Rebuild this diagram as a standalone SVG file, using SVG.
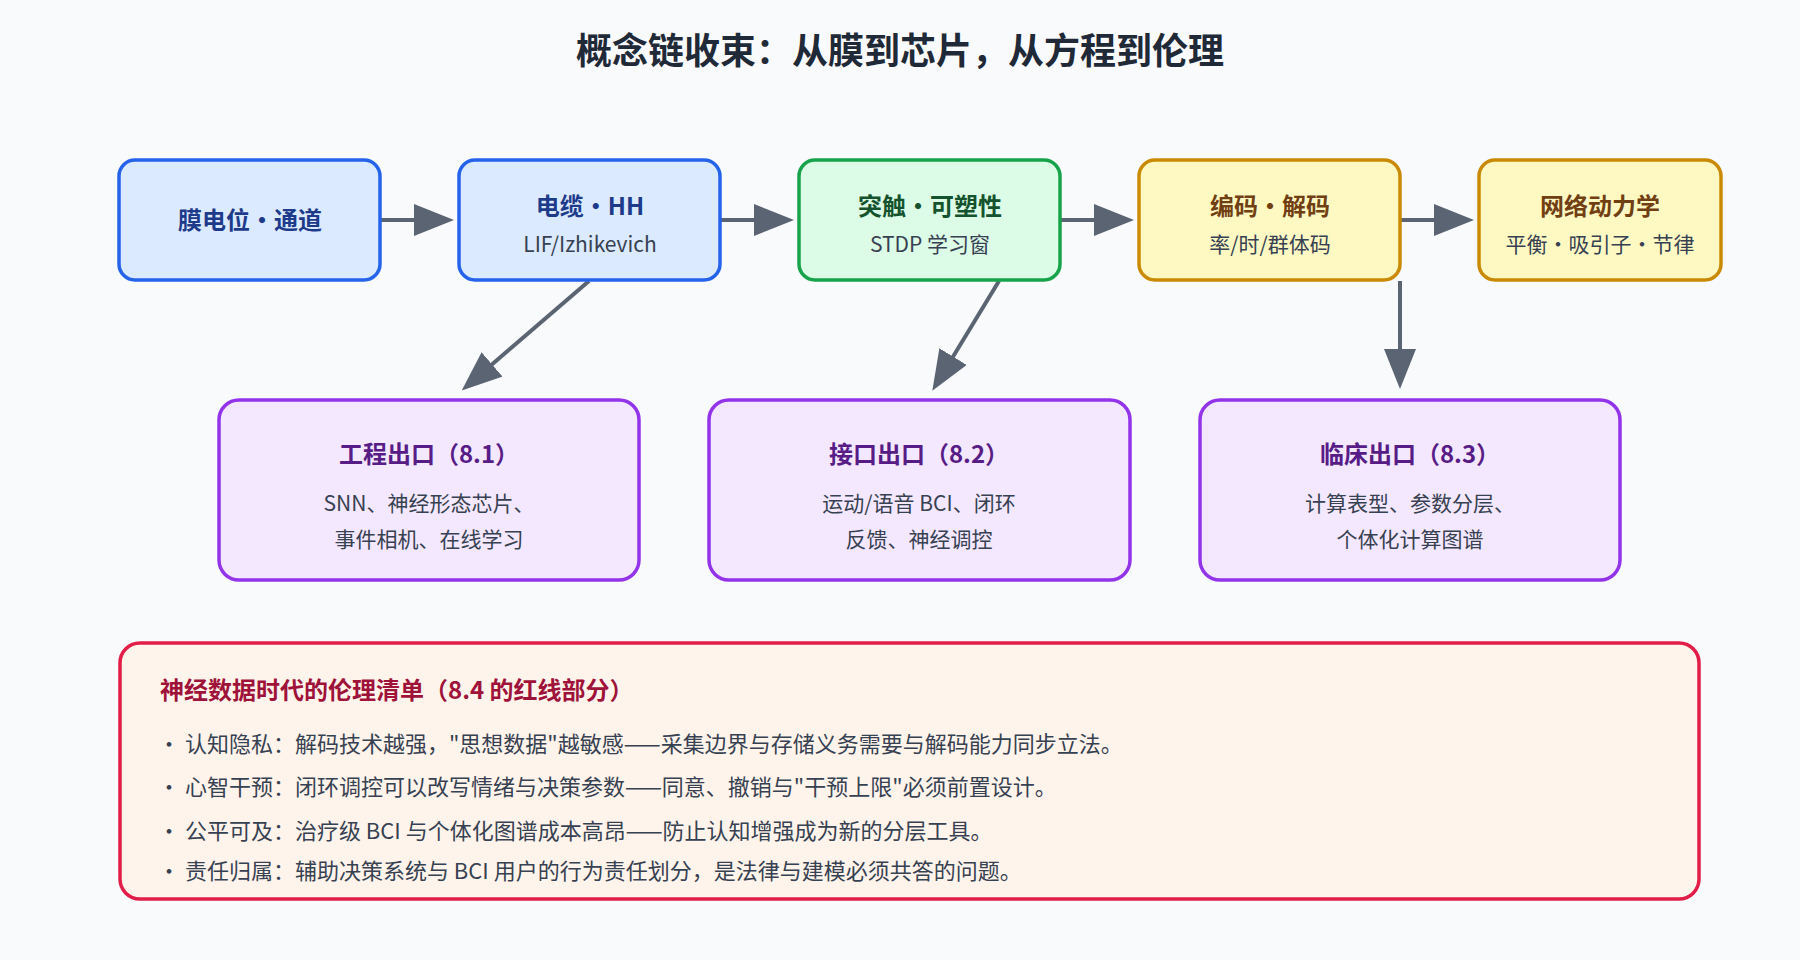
<svg xmlns="http://www.w3.org/2000/svg" width="1800" height="960" viewBox="0 0 1800 960">
<style>
text{font-family:"Noto Sans CJK SC","Noto Sans",sans-serif;text-anchor:middle}
.t{font-size:24px;font-weight:700}
.s{font-size:21px;fill:#374151}
.b rect{fill:#dbeafe;stroke:#2563eb;stroke-width:3.5}
.b .t{fill:#1e3a8a}
.g rect{fill:#dcfce7;stroke:#16a34a;stroke-width:3.5}
.g .t{fill:#14532d}
.y rect{fill:#fef9c3;stroke:#ca8a04;stroke-width:3.5}
.y .t{fill:#713f12}
.p rect{fill:#f3e8ff;stroke:#9333ea;stroke-width:3.5}
.p .t{fill:#581c87}
.e{font-size:22px;fill:#374151;text-anchor:start}
.c line{stroke:#5b6472;stroke-width:4;marker-end:url(#a)}
</style>
<defs><marker id="a" markerWidth="10" markerHeight="8" refX="1" refY="4" orient="auto" markerUnits="strokeWidth" viewBox="0 0 10 8"><path d="M0,0L10,4L0,8z" fill="#5b6472"/></marker></defs>
<rect width="1800" height="960" fill="#f8fafc"/>
<text x="900" y="64" style="font-size:36px;font-weight:700;fill:#1f2937">概念链收束：从膜到芯片，从方程到伦理</text>
<g class="c">
<line x1="380" y1="220" x2="418" y2="220"/>
<line x1="720" y1="220" x2="758" y2="220"/>
<line x1="1060" y1="220" x2="1098" y2="220"/>
<line x1="1399" y1="220" x2="1438" y2="220"/>
<line x1="589" y1="281" x2="489" y2="367"/>
<line x1="999" y1="281" x2="951" y2="360"/>
<line x1="1400" y1="281" x2="1400" y2="353"/>
</g>
<g id="n1" class="b"><rect x="119" y="160" width="261" height="120" rx="16"/><text class="t" x="250" y="229">膜电位•通道</text></g>
<g id="n2" class="b"><rect x="459" y="160" width="261" height="120" rx="16"/><text class="t" x="590" y="215">电缆•HH</text><text class="s" x="590" y="252">LIF/Izhikevich</text></g>
<g id="n3" class="g"><rect x="799" y="160" width="261" height="120" rx="16"/><text class="t" x="930" y="215">突触•可塑性</text><text class="s" x="930" y="252">STDP 学习窗</text></g>
<g id="n4" class="y"><rect x="1139" y="160" width="261" height="120" rx="16"/><text class="t" x="1270" y="215">编码•解码</text><text class="s" x="1270" y="252">率/时/群体码</text></g>
<g id="n5" class="y"><rect x="1479" y="160" width="242" height="120" rx="16"/><text class="t" x="1600" y="215">网络动力学</text><text class="s" x="1600" y="252">平衡·吸引子·节律</text></g>
<g id="o1" class="p"><rect x="219" y="400" width="420" height="180" rx="20"/><text class="t" x="429" y="463">工程出口（8.1）</text><text class="s" x="429" y="511">SNN、神经形态芯片、</text><text class="s" x="429" y="547">事件相机、在线学习</text></g>
<g id="o2" class="p"><rect x="709" y="400" width="421" height="180" rx="20"/><text class="t" x="919" y="463">接口出口（8.2）</text><text class="s" x="919" y="511">运动/语音 BCI、闭环</text><text class="s" x="919" y="547">反馈、神经调控</text></g>
<g id="o3" class="p"><rect x="1200" y="400" width="420" height="180" rx="20"/><text class="t" x="1410" y="463">临床出口（8.3）</text><text class="s" x="1410" y="511">计算表型、参数分层、</text><text class="s" x="1410" y="547">个体化计算图谱</text></g>
<g id="ethics"><rect x="120" y="643" width="1579" height="256" rx="20" fill="#fff4ec" stroke="#e11d48" stroke-width="3.5"/>
<text x="160" y="699" style="font-size:24px;font-weight:700;fill:#9f1239;text-anchor:start">神经数据时代的伦理清单（8.4 的红线部分）</text>
<text class="e" x="158" y="752">· 认知隐私：解码技术越强，"思想数据"越敏感——采集边界与存储义务需要与解码能力同步立法。</text>
<text class="e" x="158" y="795">· 心智干预：闭环调控可以改写情绪与决策参数——同意、撤销与"干预上限"必须前置设计。</text>
<text class="e" x="158" y="839">· 公平可及：治疗级 BCI 与个体化图谱成本高昂——防止认知增强成为新的分层工具。</text>
<text class="e" x="158" y="879">· 责任归属：辅助决策系统与 BCI 用户的行为责任划分，是法律与建模必须共答的问题。</text>
</g>
</svg>
